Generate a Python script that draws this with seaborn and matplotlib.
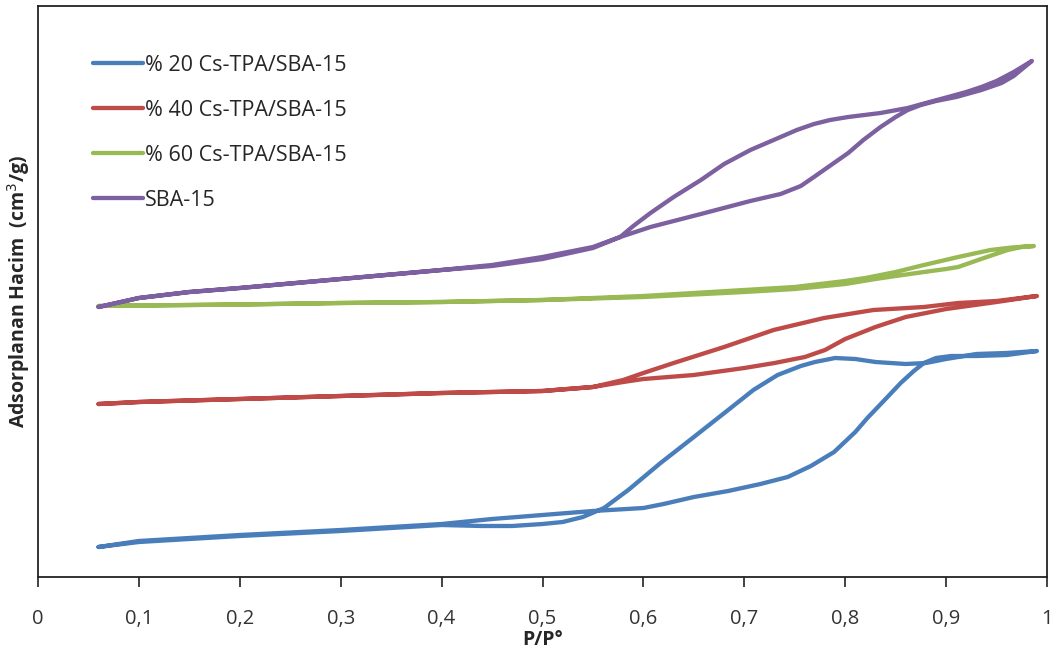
import numpy as np
import pandas as pd
import matplotlib
matplotlib.use("Agg")
import matplotlib.pyplot as plt
import seaborn as sns

# ---- data (P/P° and adsorbed volume, arbitrary units) ----
series_names = ["% 20 Cs-TPA/SBA-15", "% 40 Cs-TPA/SBA-15", "% 60 Cs-TPA/SBA-15", "SBA-15"]
colors = ["#4A7EBB", "#BE4B48", "#98B954", "#7D60A0"]

# 20 % : adsorption then desorption branch
p20_ads = [0.06, 0.10, 0.15, 0.20, 0.30, 0.40, 0.45, 0.50, 0.55, 0.60, 0.62, 0.65, 0.684, 0.716, 0.743, 0.766, 0.789, 0.81, 0.822, 0.84, 0.855, 0.868, 0.878, 0.89, 0.905, 0.93, 0.96, 0.99]
v20_ads = [30, 36, 39, 42, 47, 53, 58, 62, 66, 69, 73, 80, 86, 93, 100, 111, 125, 145, 159, 178, 194, 206, 214, 219, 221, 221, 222, 226]
p20_des = [0.96, 0.93, 0.90, 0.88, 0.86, 0.83, 0.81, 0.79, 0.77, 0.756, 0.733, 0.709, 0.684, 0.65, 0.617, 0.585, 0.561, 0.54, 0.52, 0.50, 0.47, 0.44, 0.40, 0.30, 0.20, 0.10, 0.06]
v20_des = [224, 223, 218, 214, 213, 215, 218, 219, 215, 211, 202, 187, 167, 140, 114, 87, 69, 60, 55, 53, 51, 51, 52, 46, 41, 35, 30]

# 40 %
p40_ads = [0.06, 0.10, 0.15, 0.20, 0.30, 0.40, 0.50, 0.55, 0.58, 0.60, 0.65, 0.70, 0.73, 0.76, 0.78, 0.80, 0.83, 0.86, 0.90, 0.95, 0.99]
v40_ads = [173, 175, 176.5, 178, 181, 184, 186, 190, 195, 198, 202, 209, 214, 220, 227, 238, 250, 260, 268, 275, 281]
p40_des = [0.95, 0.912, 0.878, 0.828, 0.779, 0.729, 0.68, 0.63, 0.60, 0.58, 0.55, 0.50, 0.40, 0.30, 0.20, 0.10, 0.06]
v40_des = [276, 274, 270, 267, 259, 247, 230, 214, 204, 197, 190, 186, 184, 181, 178, 175, 173]

# 60 %
p60_ads = [0.06, 0.10, 0.20, 0.30, 0.40, 0.50, 0.60, 0.70, 0.75, 0.80, 0.83, 0.85, 0.878, 0.90, 0.912, 0.9375, 0.961, 0.975, 0.987]
v60_ads = [271, 271.5, 272.5, 274, 275, 277, 280, 285, 288, 293, 298, 301, 305, 308, 310, 319, 327, 330, 331]
p60_des = [0.965, 0.944, 0.912, 0.878, 0.85, 0.82, 0.80, 0.75, 0.70, 0.60, 0.50, 0.40, 0.30, 0.20, 0.10, 0.06]
v60_des = [329.5, 327, 320, 312, 305, 299, 296, 290, 287, 281, 277, 275, 274, 272.5, 271.5, 271]

# SBA-15
ps_ads = [0.06, 0.10, 0.15, 0.20, 0.30, 0.40, 0.45, 0.50, 0.55, 0.577, 0.607, 0.657, 0.706, 0.736, 0.756, 0.769, 0.786, 0.803, 0.818, 0.835, 0.85, 0.862, 0.875, 0.89, 0.91, 0.935, 0.955, 0.967, 0.985]
vs_ads = [270, 279, 285, 289, 298, 307, 311, 318, 329, 340, 350, 363, 376, 383, 391, 400, 412, 424, 437, 450, 460, 467, 472, 476, 480, 487, 494, 501, 516]
ps_des = [0.967, 0.95, 0.935, 0.92, 0.902, 0.88, 0.862, 0.835, 0.803, 0.785, 0.769, 0.752, 0.736, 0.706, 0.68, 0.657, 0.63, 0.607, 0.59, 0.577, 0.55, 0.50, 0.45, 0.40, 0.30, 0.20, 0.15, 0.10, 0.06]
vs_des = [505, 496, 490, 485, 480, 474, 469, 464, 460, 457, 453, 447, 440, 427, 413, 397, 380, 364, 351, 340, 330, 320, 312, 307, 298, 289, 285, 279, 270]

xtick_vals = [0, 0.1, 0.2, 0.3, 0.4, 0.5, 0.6, 0.7, 0.8, 0.9, 1]
xtick_labels = ["0", "0,1", "0,2", "0,3", "0,4", "0,5", "0,6", "0,7", "0,8", "0,9", "1"]

# ---- build long table ----
frames = []
for name, pa, va, pd_, vd in [
    (series_names[0], p20_ads, v20_ads, p20_des, v20_des),
    (series_names[1], p40_ads, v40_ads, p40_des, v40_des),
    (series_names[2], p60_ads, v60_ads, p60_des, v60_des),
    (series_names[3], ps_ads, vs_ads, ps_des, vs_des),
]:
    p = list(pa) + list(pd_)
    v = list(va) + list(vd)
    frames.append(pd.DataFrame({"P": p, "V": v, "series": name, "order": range(len(p))}))
df = pd.concat(frames, ignore_index=True)

sns.set_theme(style="white")
plt.rcParams["font.family"] = ["Open Sans", "DejaVu Sans"]

fig = plt.figure(figsize=(10.58, 6.51), dpi=100)
ax = fig.add_axes([38 / 1058, 1 - 577 / 651, (1047 - 38) / 1058, (577 - 6) / 651])

sns.lineplot(data=df, x="P", y="V", hue="series", hue_order=series_names,
             palette=colors, sort=False, estimator=None, linewidth=3.1,
             ax=ax, solid_capstyle="round", solid_joinstyle="round")

ax.set_xlim(0, 1)
ax.set_ylim(0, 571)
ax.set_xticks(xtick_vals)
ax.set_xticklabels(xtick_labels, fontsize=14.5, color="#333333")
ax.set_yticks([])
ax.tick_params(axis="x", direction="out", length=7, width=1.2, color="#222222", pad=16, bottom=True)
for s in ax.spines.values():
    s.set_color("#222222")
    s.set_linewidth(1.3)
    s.set_visible(True)

ax.set_xlabel("P/P°", fontsize=14, fontweight="bold", labelpad=1)
ax.set_ylabel("Adsorplanan Hacim  (cm$^3$/g)", fontsize=14, fontweight="bold", labelpad=4)

leg = ax.legend(loc="upper left", bbox_to_anchor=(0.046, 0.93), frameon=False,
                fontsize=15.5, handlelength=2.3, handletextpad=0.1, labelspacing=1.12,
                borderaxespad=0)
for line in leg.get_lines():
    line.set_linewidth(3.1)

fig.savefig("out.png", dpi=100)
